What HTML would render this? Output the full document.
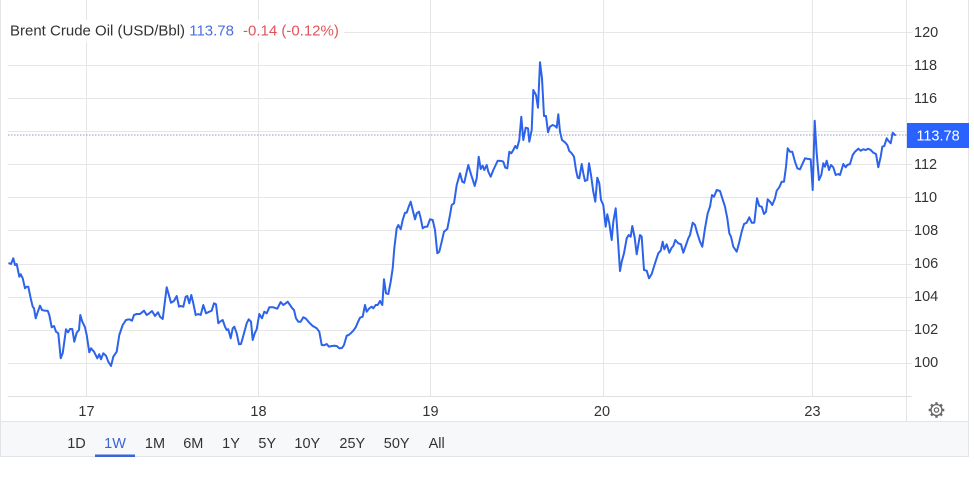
<!DOCTYPE html>
<html><head><meta charset="utf-8"><style>
html,body{margin:0;padding:0;background:#fff;}
svg{display:block;}
text{font-family:"Liberation Sans",Arial,sans-serif;}
</style></head><body>
<svg width="974" height="492" viewBox="0 0 974 492" xmlns="http://www.w3.org/2000/svg">
<rect width="974" height="492" fill="#fff"/>
<rect x="1" y="422" width="967" height="34.5" fill="#f7f8fa"/>
<g stroke="#e6e6e6" stroke-width="1">
<line x1="8" y1="32.5" x2="912" y2="32.5"/>
<line x1="8" y1="65.5" x2="912" y2="65.5"/>
<line x1="8" y1="98.5" x2="912" y2="98.5"/>
<line x1="8" y1="131.5" x2="912" y2="131.5"/>
<line x1="8" y1="164.5" x2="912" y2="164.5"/>
<line x1="8" y1="197.5" x2="912" y2="197.5"/>
<line x1="8" y1="230.5" x2="912" y2="230.5"/>
<line x1="8" y1="264.5" x2="912" y2="264.5"/>
<line x1="8" y1="297.5" x2="912" y2="297.5"/>
<line x1="8" y1="330.5" x2="912" y2="330.5"/>
<line x1="8" y1="363.5" x2="912" y2="363.5"/>
<line x1="8" y1="396.5" x2="912" y2="396.5" stroke="#e0e0e0"/>
<line x1="86.5" y1="0" x2="86.5" y2="396"/>
<line x1="258.5" y1="0" x2="258.5" y2="396"/>
<line x1="430.5" y1="0" x2="430.5" y2="396"/>
<line x1="603.5" y1="0" x2="603.5" y2="396"/>
<line x1="812.5" y1="0" x2="812.5" y2="396"/>
</g>
<g stroke="#e2e4e8" stroke-width="1" fill="none">
<line x1="0.5" y1="0" x2="0.5" y2="457"/>
<line x1="968.5" y1="0" x2="968.5" y2="457"/>
<line x1="0" y1="456.5" x2="969" y2="456.5"/>
<line x1="0" y1="421.5" x2="969" y2="421.5"/>
<line x1="906.5" y1="0" x2="906.5" y2="421"/>
</g>
<rect x="8" y="20" width="336" height="22" fill="#fff"/>
<text x="10" y="35.5" font-size="15" fill="#333">Brent Crude Oil (USD/Bbl) <tspan fill="#4a6fe3">113.78</tspan><tspan fill="#e0545a" dx="9">-0.14 (-0.12%)</tspan></text>
<line x1="8" y1="135" x2="907" y2="135" stroke="#8a9bbd" stroke-width="1" stroke-dasharray="1.5,1.5"/>
<polyline fill="none" stroke="#2d63ea" stroke-width="2" stroke-linejoin="round" stroke-linecap="round" points="9.3,263.3 11,264 13.3,258.3 15,265 16.7,264 19.3,276.7 20.7,274.3 22.7,278.3 25,288.3 26.7,286.7 28.3,286.7 30.7,298.3 32.7,306.7 34,308.3 35.7,318.3 37.3,313.3 40,305.7 42,310 45,310.7 47.7,310.7 49.3,315 51.7,327.3 54,326 56,331.7 58.3,333.3 60.7,358.3 62.7,353.3 64.3,341.7 66,329.3 68,332.3 70,329 72.3,329 74.3,341.7 76.7,332.7 79,330 80.3,315 82.3,321.7 85,327.3 86.7,335 89.3,352.3 91,348.3 94,351.7 97.3,358.3 99.3,354.3 101,359.3 103.3,353.3 106,355.7 108.3,361.7 111,366 113.3,356.7 116.7,351.7 119.3,335 122.7,325 126,320 129.3,319.3 132,320.7 134,315 136.7,314 140,314 144,310.7 146.7,315 149.3,313.3 152,311 155,316 158,312.3 160,316.7 162.7,319 166.7,287.3 171,302.7 174,301 176.7,296 179,306.7 180.7,306 183.3,306.7 185.7,296.7 187.3,296 189.3,303.3 191.3,295 193.3,303.3 195.7,315 198.3,314 200.7,315 203.3,305 206,313.3 209.3,311.7 211.7,310.7 214,303.3 216,304.3 218.3,323.3 220,321.7 222.7,320 225,326.7 226.7,330 228.3,329.3 230.7,338.3 232.7,328.3 234.3,326.7 236.7,333.3 239,344.3 241,344 244,333.3 246.7,323.3 248.7,319.3 251,321.7 252.7,340 254.7,333.3 256.7,329.3 259.3,314 262,318.3 264.3,311.7 266.7,313.3 269.3,307.3 273.3,307.3 277.3,308.7 280.7,302 283.3,305 285.7,303.3 287.7,301.7 290,305 292.3,308.3 294,310 296,318.3 298.3,321.7 300.7,321.7 303.3,317.3 306,318.7 309.3,322.7 312.7,326 316.7,328.3 319.3,331.7 321.7,345 324,345.3 326.7,344 329,346.7 331.7,346 334.3,345.7 336.7,346 339.3,348.3 342,348 344,345 346.7,335.7 348.7,335 350.7,333.3 353.3,330.7 355.7,327.3 357.7,322.7 360,317.7 362.7,316.7 365,305 366.7,311.7 369.3,308.3 371.7,306.7 373.3,308.3 375.7,305 377.7,305 380,301 382.3,305 384,279.3 386,293.3 388.3,294 390.7,281.7 392.7,268.3 394.3,248.3 396.7,228.3 398.3,225 400.7,229.3 402.7,220 405,212.7 406.7,212.7 408.7,206.7 410.7,201.7 412.7,210 415,219.3 416.7,213.3 419,211.7 420.7,218.3 422.7,228.3 425,226.7 427.3,226.7 430,219.3 432.7,220 435,230 437.3,253.3 439.3,251.7 441.7,241.7 444,231.7 447.3,229 450,215 451.7,205 454,203.3 456.7,185 460,173.3 462.3,181.7 464.3,182.7 466.7,171.7 468.3,165 470.7,173.3 472.3,178.3 474.7,186 476.7,178.3 478.7,156.7 480.7,169 482.7,165.7 484.3,170 486.7,165 488.3,171.7 490.7,176.7 493.3,170 495.7,165 497.7,160.7 501.7,161 503.3,161.7 505.3,167.7 507.3,168.3 509.3,151.7 511.3,153.3 513.3,150 515.3,146 517,148.3 519.3,140 521.3,116.7 523.3,140 525.7,127.7 528,128.3 529.3,141.7 531.7,130 533.3,90 536,95 538,107.7 540,62.3 542,78.3 544,116 546,116 548,132.3 550,126.7 552.7,125 555,126 556.7,127.7 558.3,114.3 560,131.7 562,140 565,142.3 567.3,145 569.3,151 571.7,153.3 574,156.7 576,170 577.7,177.7 579.3,178.3 581.7,164 583.3,173.3 585,181 587.3,180 589,163.3 591,175 593.3,191.7 595.3,201.7 597.3,177.7 599.3,183.3 601,200 603.3,205 605.7,226.7 607.3,214.3 609.3,223.3 611.7,240 613.3,221.7 615.7,208.3 617.3,230 620,271 621.7,261.7 624,253.3 626.7,238.3 628.7,235 630.7,236.7 632.3,226 634.7,237.7 636.7,254.3 640,235 641.7,236.7 644,270 646.7,270.7 649,278.3 651.7,274 655,263.3 658.3,253.3 660.7,250.7 662.7,241.7 664.3,249.3 666.7,244.3 669.3,252.7 671.7,247.7 673.3,246 675.3,240 678.3,243.3 681,244.3 683.3,252.7 686,245 688.3,238.3 690,235 692.7,222.7 695,225 697.3,233.3 700,241.7 702.3,246.7 705,228.3 707.7,213.3 710,206.7 712,195 714,196.7 716.7,190 720,191 722.3,198.3 725,206.7 727.3,218.3 729.3,233.3 731,236.7 733.3,246.7 736.7,251.7 739,243.3 741.7,231.7 744,224 746.7,222.7 749.3,217.3 751.7,222.7 754.3,222.7 757,198.3 759.3,206 761.7,206.7 764,214 766,211.7 767.7,199.3 770,201.7 772.3,205 775,198.3 776.7,190.7 779.3,187.3 781.7,181.7 784,181.7 786,166.7 787.7,148.3 790,151.7 792.3,151.7 795,161.7 797.3,168.3 800,169.3 802.7,163.3 805,158.3 808.3,159 810.7,159.3 812.7,190 814.7,120.7 816.7,153.3 819,180 821.3,175 823.3,163.3 825,166.7 826.7,160.7 829,170 831,165 833.3,167.3 835.7,175 838.3,174 840,175 843.3,164 845.7,167.3 847.3,165 850,164 852.7,155 855,151.7 858.3,148.7 860.7,150.7 863.3,149.3 865.7,150 868.3,148.7 870.7,150 873.3,152.7 876,154 878.3,167.3 880.7,156.7 882.3,146.7 884.3,146 886.7,138.3 888.3,140.7 890.7,143.3 892.7,132.7 895,135"/>
<g font-size="14.5" fill="#333">
<text x="914" y="37">120</text>
<text x="914" y="70">118</text>
<text x="914" y="103">116</text>
<text x="914" y="169">112</text>
<text x="914" y="202">110</text>
<text x="914" y="235">108</text>
<text x="914" y="268">106</text>
<text x="914" y="301">104</text>
<text x="914" y="334">102</text>
<text x="914" y="367">100</text>
</g>
<rect x="907" y="123" width="62" height="25" fill="#2962ff"/>
<text x="938" y="140.5" font-size="14.5" fill="#fff" text-anchor="middle">113.78</text>
<g font-size="14.5" fill="#333" text-anchor="middle">
<text x="86.5" y="416">17</text>
<text x="258.5" y="416">18</text>
<text x="430.5" y="416">19</text>
<text x="602" y="416">20</text>
<text x="812.5" y="416">23</text>
</g>
<g transform="translate(936.5,410)" stroke="#666" fill="none">
<circle r="5.5" stroke-width="1.3"/>
<circle r="2.2" stroke-width="1.2"/>
<g stroke-width="2.4">
<line x1="0" y1="-5.5" x2="0" y2="-7.8"/>
<line x1="0" y1="5.5" x2="0" y2="7.8"/>
<line x1="-5.5" y1="0" x2="-7.8" y2="0"/>
<line x1="5.5" y1="0" x2="7.8" y2="0"/>
<line x1="3.9" y1="3.9" x2="5.5" y2="5.5"/>
<line x1="-3.9" y1="3.9" x2="-5.5" y2="5.5"/>
<line x1="3.9" y1="-3.9" x2="5.5" y2="-5.5"/>
<line x1="-3.9" y1="-3.9" x2="-5.5" y2="-5.5"/>
</g>
</g>
<g font-size="14.5" fill="#333" text-anchor="middle">
<text x="76.5" y="448">1D</text>
<text x="115" y="448" fill="#3a63d8">1W</text>
<text x="155" y="448">1M</text>
<text x="193.3" y="448">6M</text>
<text x="231" y="448">1Y</text>
<text x="267.3" y="448">5Y</text>
<text x="307.3" y="448">10Y</text>
<text x="352.3" y="448">25Y</text>
<text x="396.7" y="448">50Y</text>
<text x="436.7" y="448">All</text>
</g>
<rect x="95" y="454.5" width="40" height="2.5" fill="#3a63d8"/>
</svg>
</body></html>
